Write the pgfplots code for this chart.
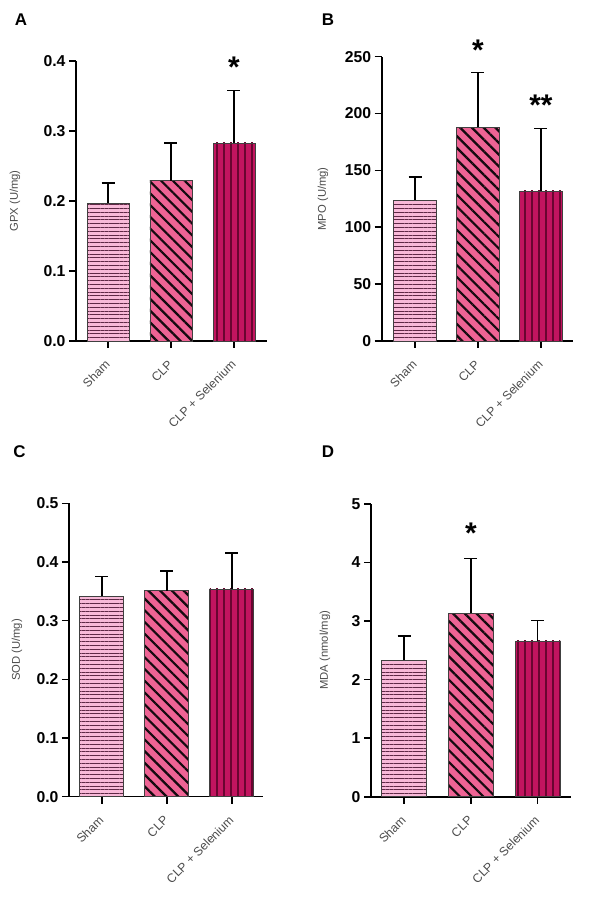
\documentclass[border=0pt]{standalone}
\usepackage{pgfplots}
\pgfplotsset{compat=1.18}
\usepackage{fontspec}
\setmainfont{Liberation Sans}
\setsansfont{Liberation Sans}
\usetikzlibrary{patterns.meta}
\definecolor{shamfill}{RGB}{248,185,216}
\definecolor{clpfill}{RGB}{238,99,148}
\definecolor{sefill}{RGB}{194,20,95}
\definecolor{shamline}{RGB}{95,40,70}
\definecolor{clpline}{RGB}{20,10,15}
\definecolor{seline}{RGB}{105,5,48}
\definecolor{lblgray}{RGB}{75,75,75}

\tikzset{sigstar/.style={anchor=north, inner sep=0pt, font=\fontsize{30}{30}\selectfont\bfseries}}

\pgfplotsset{
  panel/.style={
    scale only axis,
    clip=false,
    axis lines=left,
    axis line style={-, line width=1.6bp, black},
    tick align=outside,
    major tick length=7bp,
    every tick/.style={black, line width=1.6bp},
    xtick={0,1,2},
    xticklabels={Sham, CLP, CLP + Selenium},
    xticklabel style={xshift=2bp, yshift=-12bp, rotate=45, anchor=east, font=\fontsize{12.3}{13}\selectfont, text=lblgray},
    yticklabel style={font=\fontsize{15.8}{16}\selectfont\bfseries},
    /pgf/number format/assume math mode=true,
    ylabel style={font=\fontsize{11.3}{12}\selectfont, text=lblgray, anchor=center},
    ymin=0,
    anchor=south west,
  },
  errs/.style={/pgfplots/error bars/y dir=plus, /pgfplots/error bars/y explicit,
    /pgfplots/error bars/error bar style={line width=1.6bp, black, solid},
    /pgfplots/error bars/error mark options={rotate=90, line width=1.6bp, mark size=6.5bp, black}},
  shambar/.style={ybar, bar shift=0pt, draw=black!75, line width=0.7bp, fill=shamfill,
    postaction={pattern={Lines[angle=0,distance=3.8bp,line width=0.95bp]}, pattern color=shamline}, errs},
  clpbar/.style={ybar, bar shift=0pt, draw=black!75, line width=0.7bp, fill=clpfill,
    postaction={pattern={Lines[angle=-45,distance=8.3bp,line width=2.2bp]}, pattern color=clpline}, errs},
  sebar/.style={ybar, bar shift=0pt, draw=black!75, line width=0.7bp, fill=sefill,
    postaction={pattern={Lines[angle=90,distance=7bp,line width=1.6bp]}, pattern color=seline}, errs},
}

\begin{document}
\begin{tikzpicture}
\useasboundingbox (0,0) rectangle (597bp,900bp);

\begin{scope}
\clip (0,472bp) rectangle (597bp,900bp);
% Panel A
\begin{axis}[panel, at={(76bp,559bp)}, width=191bp, height=280bp,
  xmin=-0.508, xmax=2.524, ymax=0.4, ytick={0,0.1,0.2,0.3,0.4},
  yticklabel style={/pgf/number format/.cd, fixed, fixed zerofill, precision=1},
  ylabel={GPX (U/mg)}, ylabel style={at={(axis description cs:-0.319,0.5)}}]
\addplot[shambar, bar width=42bp] coordinates {(0,0.197) +- (0,0.029)};
\addplot[clpbar, bar width=42bp] coordinates {(1,0.229) +- (0,0.054)};
\addplot[sebar, bar width=42bp] coordinates {(2,0.283) +- (0,0.075)};
\node[sigstar] at (axis cs:2,0.406) {*};
\end{axis}

% Panel B
\begin{axis}[panel, at={(381.7bp,559bp)}, width=191.3bp, height=284.3bp,
  xmin=-0.53, xmax=2.51, ymax=250, ytick={0,50,100,150,200,250},
  ylabel={MPO (U/mg)}, ylabel style={at={(axis description cs:-0.307,0.5)}}]
\addplot[shambar, bar width=43bp] coordinates {(0,124) +- (0,20)};
\addplot[clpbar, bar width=43bp] coordinates {(1,188) +- (0,48)};
\addplot[sebar, bar width=43bp] coordinates {(2,132) +- (0,55)};
\node[sigstar] at (axis cs:1,264.7) {*};
\node[sigstar] at (axis cs:2,216.3) {**};
\end{axis}
\end{scope}

% Panel C
\begin{axis}[panel, at={(69bp,103.3bp)}, width=194bp, height=293.4bp,
  xmin=-0.503, xmax=2.48, ymax=0.5, ytick={0,0.1,0.2,0.3,0.4,0.5},
  yticklabel style={/pgf/number format/.cd, fixed, fixed zerofill, precision=1},
  ylabel={SOD (U/mg)}, ylabel style={at={(axis description cs:-0.268,0.5)}}]
\addplot[shambar, bar width=44bp] coordinates {(0,0.342) +- (0,0.033)};
\addplot[clpbar, bar width=44bp] coordinates {(1,0.351) +- (0,0.034)};
\addplot[sebar, bar width=44bp] coordinates {(2,0.354) +- (0,0.061)};
\end{axis}

% Panel D
\begin{axis}[panel, at={(371bp,103.3bp)}, width=200bp, height=292.7bp,
  xmin=-0.495, xmax=2.50, ymax=5, ytick={0,1,2,3,4,5},
  ylabel={MDA (nmol/mg)}, ylabel style={at={(axis description cs:-0.23,0.5)}}]
\addplot[shambar, bar width=45bp] coordinates {(0,2.33) +- (0,0.41)};
\addplot[clpbar, bar width=45bp] coordinates {(1,3.13) +- (0,0.94)};
\addplot[sebar, bar width=45bp] coordinates {(2,2.66) +- (0,0.35)};
\node[sigstar] at (axis cs:1,4.68) {*};
\end{axis}

% Panel letters
\node[font=\fontsize{17}{17}\selectfont\bfseries] at (21bp,880.5bp) {A};
\node[font=\fontsize{17}{17}\selectfont\bfseries] at (328bp,880bp) {B};
\node[font=\fontsize{17}{17}\selectfont\bfseries] at (19.5bp,448bp) {C};
\node[font=\fontsize{17}{17}\selectfont\bfseries] at (328bp,448bp) {D};
\end{tikzpicture}
\end{document}
